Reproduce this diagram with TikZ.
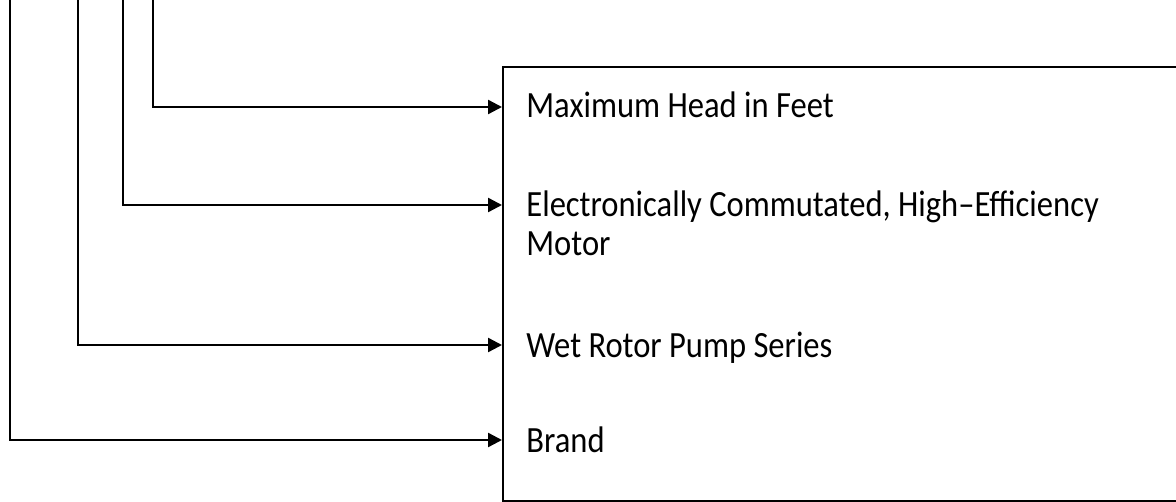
\documentclass[tikz,border=0pt]{standalone}
\usepackage{fontspec}
\usetikzlibrary{arrows.meta}
\newfontfamily\lblfont[FakeStretch=0.88]{Carlito}
\tikzset{
  feed/.style={line width=1.2pt,-{Triangle[length=7pt,width=7pt]}},
  lbl/.style={anchor=base west,inner sep=0pt,align=left,
    font=\lblfont\fontsize{18.5}{19}\selectfont}
}

\begin{document}
\begin{tikzpicture}[x=0.5pt,y=-0.5pt]
\useasboundingbox (0,0) rectangle (1176,502);
\clip (0,0) rectangle (1176,502);
% box on the right, cut off by the page edge
\node[draw,line width=1.1pt,inner sep=0pt,minimum width=360pt,minimum height=217pt,anchor=north west] (panel) at (502,66) {};
% labels
\node[lbl] (head) at (526,118) {Maximum Head in Feet};
\node[lbl] (motor) at (526,255) {Electronically Commutated, High–Efficiency\\Motor};
\node[lbl] (series) at (526,357) {Wet Rotor Pump Series};
\node[lbl] (brand) at (526,452) {Brand};
% feed lines
\foreach \n/\x/\y in {1/153/107,2/123/205,3/78/345,4/10/440} {
  \coordinate (top\n) at (\x,-5);
  \coordinate (tip\n) at (502,\y);
  \draw[feed] (top\n) |- (tip\n);
}
\end{tikzpicture}
\end{document}
